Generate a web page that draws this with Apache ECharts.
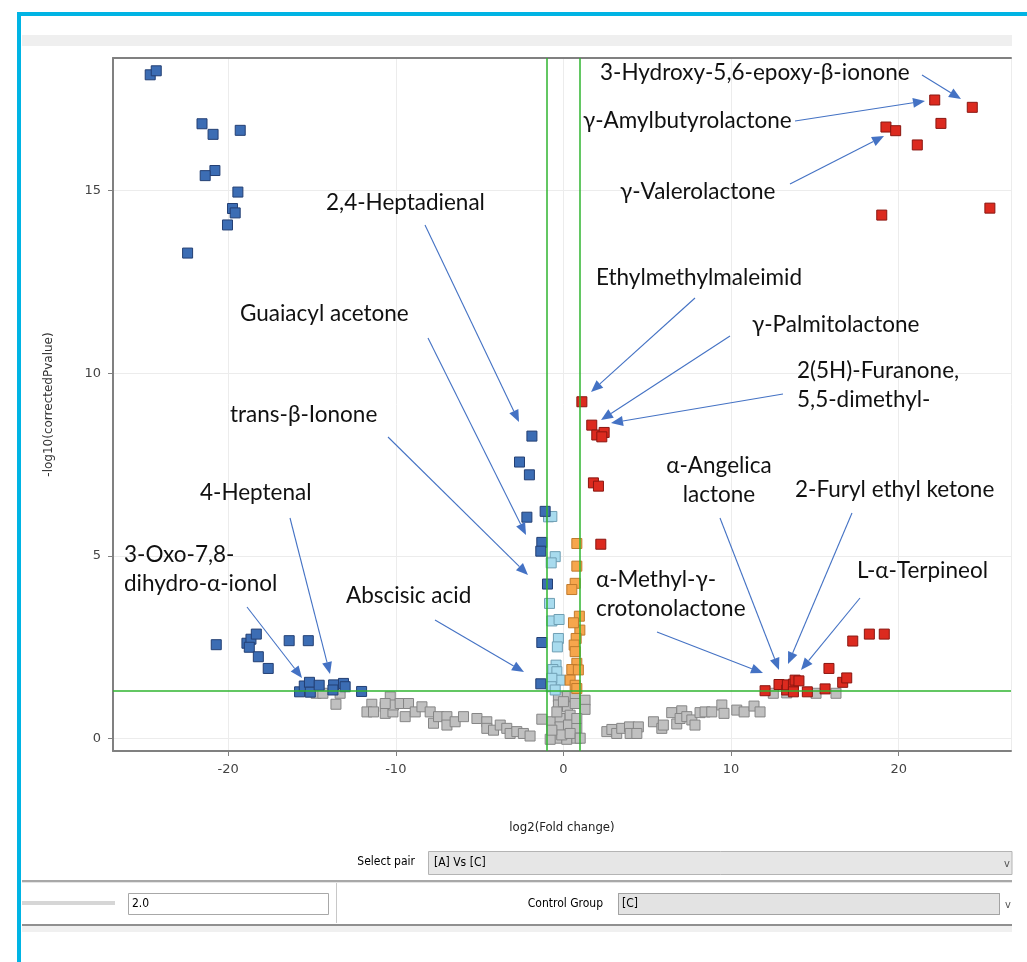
<!DOCTYPE html>
<html>
<head>
<meta charset="utf-8">
<script src="https://cdn.jsdelivr.net/npm/echarts@6/dist/echarts.min.js"></script>
<style>
html,body{margin:0;padding:0;background:#fff;}
#chart{width:1027px;height:962px;}
</style>
</head>
<body>
<div id="chart"></div>
<script>
// ---------------- DATA ----------------
// [log2(Fold change), -log10(corrected p-value)]
const blueDown = [
  [-24.65,18.17],[-24.29,18.28],[-21.56,16.83],[-20.90,16.54],[-19.28,16.65],[-20.79,15.55],
  [-21.37,15.41],[-19.42,14.96],[-19.74,14.51],[-19.58,14.39],[-20.04,14.06],[-22.42,13.29],
  [-20.71,2.57],[-18.88,2.61],[-18.64,2.72],[-18.32,2.86],[-18.74,2.50],[-18.20,2.24],
  [-17.61,1.92],[-16.36,2.68],[-15.22,2.68],
  [-15.74,1.28],[-15.46,1.44],[-15.15,1.54],[-15.10,1.27],[-14.57,1.46],[-13.71,1.47],
  [-13.75,1.33],[-13.12,1.51],[-13.02,1.42],[-12.04,1.29],
  [-1.88,8.28],[-2.62,7.57],[-2.03,7.22],[-1.09,6.22],[-2.18,6.06],[-1.29,5.37],
  [-1.35,5.13],[-0.95,4.23],[-1.29,2.63],[-1.35,1.50]
];
const lightBlue = [
  [-0.89,6.07],[-0.69,6.08],[-0.49,4.98],[-0.73,4.81],[-0.83,3.70],[-0.69,3.22],
  [-0.26,3.26],[-0.30,2.74],[-0.36,2.51],[-0.44,2.01],[-0.63,1.89],[-0.39,1.83],
  [-0.20,1.60],[-0.69,1.65],[-0.73,1.42],[-0.49,1.33]
];
const orangeUp = [
  [0.80,5.34],[0.80,4.72],[0.70,4.25],[0.50,4.08],[0.95,3.35],[0.98,2.97],
  [0.60,3.17],[0.76,2.74],[0.64,2.56],[0.70,2.38],[0.80,2.06],[0.50,1.89],
  [0.89,1.88],[0.40,1.60],[0.70,1.46],[0.80,1.37]
];
const redUp = [
  [1.10,9.22],[1.69,8.58],[1.99,8.31],[2.43,8.38],[2.29,8.26],[1.79,7.00],[2.09,6.91],[2.23,5.32],
  [12.03,1.31],[12.86,1.48],[13.32,1.33],[13.36,1.47],[13.72,1.49],[13.82,1.60],[14.05,1.58],
  [13.72,1.28],[14.55,1.28],[15.61,1.36],[15.84,1.92],[16.66,1.54],[16.90,1.66],
  [17.26,2.67],[18.25,2.86],[19.14,2.86],
  [22.15,17.48],[24.39,17.28],[22.52,16.84],[19.24,16.74],[19.82,16.64],[21.11,16.25],
  [18.99,14.33],[25.44,14.52]
];
const grayNS = [
  [-14.75,1.24],[-14.35,1.24],[-13.32,1.24],[-13.57,0.94],
  [-11.43,0.94],[-11.72,0.73],[-11.33,0.73],[-10.63,0.87],[-10.33,1.14],[-10.63,0.69],
  [-10.17,0.73],[-10.14,0.92],[-10.63,0.96],[-9.74,0.96],[-9.24,0.96],[-9.44,0.60],
  [-8.84,0.73],[-8.44,0.87],[-7.95,0.73],[-7.75,0.42],[-7.45,0.60],[-6.95,0.60],[-6.95,0.37],
  [-6.46,0.46],[-5.96,0.60],[-5.16,0.55],[-4.57,0.46],[-4.57,0.28],[-4.17,0.23],[-3.77,0.37],
  [-3.38,0.28],[-3.18,0.14],[-2.78,0.19],[-2.39,0.14],[-1.99,0.07],[-1.29,0.53],
  [-0.30,1.14],[0.24,1.16],[0.70,1.14],[1.29,1.05],[1.29,0.80],[-0.30,0.92],[0.24,0.87],
  [0.70,0.96],[-0.69,0.46],[-0.20,0.55],[0.40,0.64],[-0.20,0.32],[0.30,0.37],[0.80,0.28],
  [-0.39,0.01],[0.20,-0.02],[0.80,0.01],[-0.79,-0.02],[-0.10,0.10],[0.40,0.14],[-0.39,0.73],
  [0.80,0.55],[-0.69,0.23],[0.00,1.01],[1.00,0.01],
  [2.59,0.19],[2.89,0.25],[3.18,0.14],[3.48,0.28],[3.94,0.32],[3.98,0.14],[4.47,0.32],
  [4.38,0.14],[5.37,0.46],[5.87,0.28],[5.96,0.37],[6.46,0.71],[6.76,0.40],[7.06,0.76],
  [6.96,0.55],[7.36,0.60],[7.66,0.51],[7.85,0.37],[8.15,0.71],[8.45,0.73],[8.85,0.73],
  [9.45,0.92],[9.58,0.69],[10.34,0.78],[10.78,0.73],[11.37,0.89],[11.73,0.73],
  [12.52,1.24],[13.32,1.25],[15.07,1.24],[16.26,1.24]
];
const fcThresholds = [-1, 1];
const pThreshold = 1.3;
const xTitle = 'log2(Fold change)';
const yTitle = '-log10(correctedPvalue)';

// Annotation texts (labels drawn on the picture)
const annotations = [
  {t:'3-Hydroxy-5,6-epoxy-β-ionone', x:600, y:73, a:[922,75,961,99]},
  {t:'γ-Amylbutyrolactone', x:583, y:121, a:[795,121,925,101]},
  {t:'γ-Valerolactone', x:620, y:192, a:[790,184,884,136]},
  {t:'2,4-Heptadienal', x:326, y:203, a:[425,225,519,422]},
  {t:'Ethylmethylmaleimid', x:596, y:278, a:[695,298,591,392]},
  {t:'Guaiacyl acetone', x:240, y:314, a:[428,338,526,535]},
  {t:'γ-Palmitolactone', x:752, y:325, a:[730,336,601,420]},
  {t:'2(5H)-Furanone,\n5,5-dimethyl-', x:797, y:385, a:[783,394,611,423]},
  {t:'trans-β-Ionone', x:230, y:415, a:[388,437,528,575]},
  {t:'α-Angelica\nlactone', x:719, y:480, align:'center', a:[720,518,779,670]},
  {t:'2-Furyl ethyl ketone', x:795, y:490, a:[852,513,788,664]},
  {t:'4-Heptenal', x:200, y:493, a:[290,518,330,674]},
  {t:'L-α-Terpineol', x:857, y:571, a:[860,598,801,670]},
  {t:'3-Oxo-7,8-\ndihydro-α-ionol', x:124, y:569, a:[247,607,302,678]},
  {t:'Abscisic acid', x:346, y:596, a:[435,620,524,672]},
  {t:'α-Methyl-γ-\ncrotonolactone', x:596, y:594, a:[657,632,763,673]}
];

// ---------------- CHART ----------------
const chart = echarts.init(document.getElementById('chart'), null, {renderer:'canvas'});
const AX = '#808080';
const FONT_ANN = 'Lato';
const FONT_UI = 'DejaVu Sans Condensed';

function sq(fill, border){ return {color:fill, borderColor:border, borderWidth:1, opacity:1}; }

function arrowEls(x1,y1,x2,y2){
  const dx=x2-x1, dy=y2-y1, L=Math.hypot(dx,dy), ux=dx/L, uy=dy/L;
  const h=12, w=5, bx=x2-ux*h, by=y2-uy*h;
  return [
    {type:'line', z:100, shape:{x1:x1,y1:y1,x2:bx,y2:by}, style:{stroke:'#4472C4', lineWidth:1.1}},
    {type:'polygon', z:100, shape:{points:[[x2,y2],[bx-uy*w,by+ux*w],[bx+uy*w,by-ux*w]]}, style:{fill:'#4472C4'}}
  ];
}

const graphics = [];
// outer frame and window chrome
graphics.push({type:'rect', z:-10, shape:{x:22,y:35,width:990,height:11}, style:{fill:'#efefef'}});
graphics.push({type:'rect', z:200, shape:{x:19,y:14,width:1030,height:970}, style:{fill:'none', stroke:'#00b4e4', lineWidth:4}});
// annotations
annotations.forEach(a=>{
  graphics.push({type:'text', z:100, x:a.x, y:a.y, style:{text:a.t, fontFamily:FONT_ANN, fontSize:22.5, fill:'#111', align:a.align||'left', verticalAlign:'middle', lineHeight:29}});
  arrowEls.apply(null, a.a).forEach(e=>graphics.push(e));
});
// bottom controls
graphics.push({type:'text', x:415, y:862, style:{text:'Select pair', fontFamily:FONT_UI, fontSize:12, fill:'#000', align:'right', verticalAlign:'middle'}});
graphics.push({type:'rect', shape:{x:428.5,y:851.5,width:583.5,height:23}, style:{fill:'#e6e6e6', stroke:'#b4b4b4', lineWidth:1}});
graphics.push({type:'text', x:434, y:863, style:{text:'[A] Vs [C]', fontFamily:FONT_UI, fontSize:12, fill:'#000', verticalAlign:'middle'}});
graphics.push({type:'text', x:1004, y:864, style:{text:'v', fontFamily:FONT_UI, fontSize:11, fill:'#555', verticalAlign:'middle'}});
graphics.push({type:'rect', shape:{x:22,y:880,width:990,height:2}, style:{fill:'#a8a8a8'}});
graphics.push({type:'rect', shape:{x:22,y:882,width:990,height:1}, style:{fill:'#e4e4e4'}});
graphics.push({type:'rect', shape:{x:22,y:901,width:93,height:4}, style:{fill:'#d6d6d6'}});
graphics.push({type:'rect', shape:{x:128.5,y:893.5,width:200,height:21}, style:{fill:'#fff', stroke:'#a8a8a8', lineWidth:1}});
graphics.push({type:'text', x:132, y:904, style:{text:'2.0', fontFamily:FONT_UI, fontSize:12, fill:'#000', verticalAlign:'middle'}});
graphics.push({type:'rect', shape:{x:336,y:883,width:1,height:40}, style:{fill:'#c8c8c8'}});
graphics.push({type:'text', x:603, y:904, style:{text:'Control Group', fontFamily:FONT_UI, fontSize:12, fill:'#000', align:'right', verticalAlign:'middle'}});
graphics.push({type:'rect', shape:{x:618.5,y:893.5,width:381,height:21}, style:{fill:'#e3e3e3', stroke:'#555', lineWidth:1, lineDash:[1,1]}});
graphics.push({type:'text', x:622, y:904, style:{text:'[C]', fontFamily:FONT_UI, fontSize:12, fill:'#000', verticalAlign:'middle'}});
graphics.push({type:'text', x:1005, y:905, style:{text:'v', fontFamily:FONT_UI, fontSize:11, fill:'#555', verticalAlign:'middle'}});
graphics.push({type:'rect', shape:{x:22,y:924,width:990,height:2}, style:{fill:'#909090'}});
graphics.push({type:'rect', shape:{x:22,y:926,width:990,height:6}, style:{fill:'#f0f0f0'}});

const scatterBase = {type:'scatter', symbol:'rect', symbolSize:10, silent:true};

const option = {
  animation:false,
  backgroundColor:'#fff',
  grid:{left:113, top:58, right:16, bottom:211},
  xAxis:[{
    type:'value', min:-26.87, max:26.7, splitNumber:5,
    name:xTitle, nameLocation:'middle', nameGap:70,
    nameTextStyle:{fontFamily:FONT_UI, fontSize:13, color:'#222'},
    axisLine:{onZero:false, lineStyle:{color:AX, width:2}},
    axisTick:{length:5, lineStyle:{color:AX, width:1}},
    axisLabel:{showMinLabel:false, showMaxLabel:false, fontFamily:'DejaVu Sans', fontSize:13, color:'#444', margin:12},
    splitLine:{lineStyle:{color:'#ececec', width:1}}
  },{
    type:'value', position:'top', min:-26.87, max:26.7,
    axisLine:{onZero:false, lineStyle:{color:AX, width:2}},
    axisTick:{show:false}, axisLabel:{show:false}, splitLine:{show:false}
  }],
  yAxis:{
    type:'value', min:-0.34, max:18.63, splitNumber:4,
    name:yTitle, nameLocation:'middle', nameGap:58,
    nameTextStyle:{fontFamily:'DejaVu Sans', fontSize:12, color:'#333'},
    axisLine:{onZero:false, lineStyle:{color:AX, width:2}},
    axisTick:{length:5, lineStyle:{color:AX, width:1}},
    axisLabel:{showMinLabel:false, showMaxLabel:false, fontFamily:'DejaVu Sans', fontSize:13, color:'#444', margin:12},
    splitLine:{lineStyle:{color:'#ececec', width:1}}
  },
  series:[
    Object.assign({}, scatterBase, {name:'ns', data:grayNS, itemStyle:sq('#c0c0c0','#858585'), z:2}),
    Object.assign({}, scatterBase, {name:'down-small', data:lightBlue, itemStyle:sq('#a8dbee','#6f9fb4'), z:3}),
    Object.assign({}, scatterBase, {name:'up-small', data:orangeUp, itemStyle:sq('#f6a64c','#c07a2c'), z:3}),
    Object.assign({}, scatterBase, {name:'down', data:blueDown, itemStyle:sq('#3c6db4','#233f73'), z:4}),
    Object.assign({}, scatterBase, {name:'up', data:redUp, itemStyle:sq('#dc2a1f','#8a1610'), z:4}),
    {type:'scatter', data:[], z:6, silent:true,
     markLine:{silent:true, symbol:'none', animation:false, label:{show:false},
       lineStyle:{color:'#2fb52f', width:1.5, type:'solid'},
       data:[{xAxis:fcThresholds[0]},{xAxis:fcThresholds[1]},{yAxis:pThreshold}]}}
  ],
  graphic:graphics
};
chart.setOption(option);
</script>
</body>
</html>
